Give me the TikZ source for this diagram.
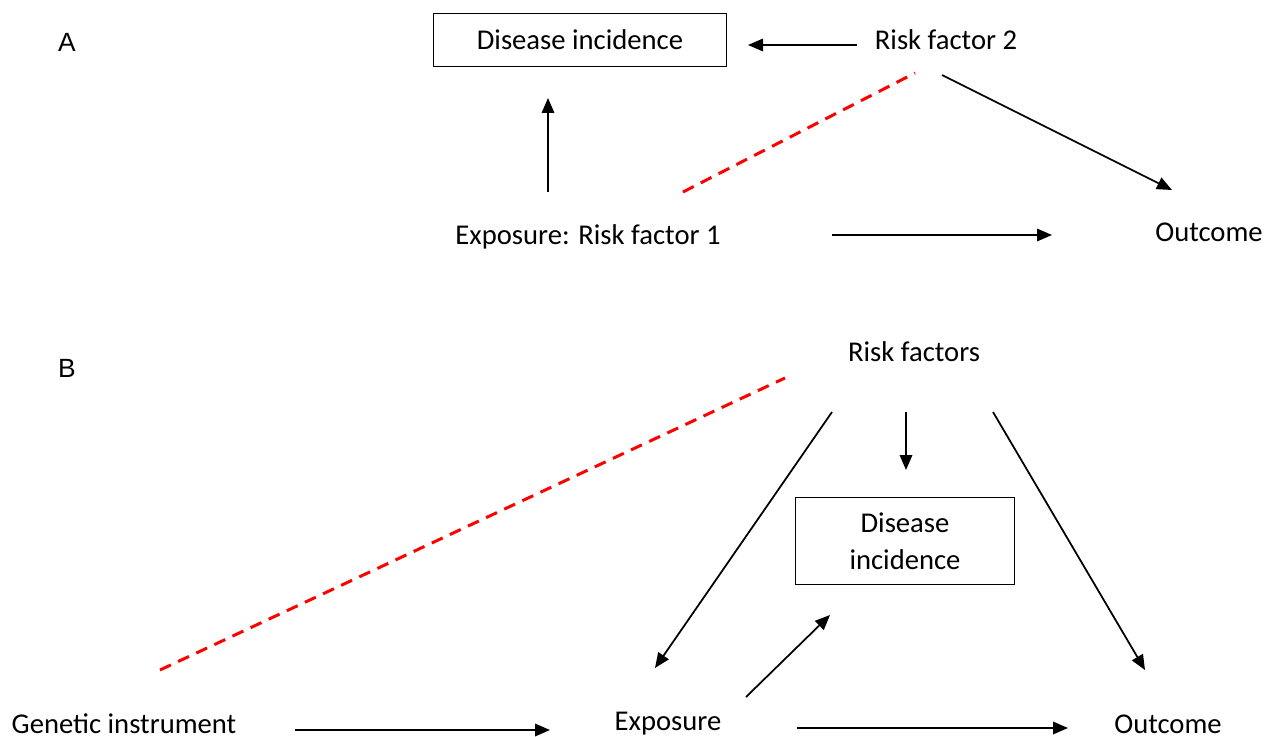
\documentclass[tikz,border=0pt]{standalone}
\usepackage{fontspec}
\setmainfont{Carlito}
\newfontfamily\panelfont{Liberation Sans}
\usetikzlibrary{arrows.meta, positioning}

\begin{document}
\begin{tikzpicture}[x=0.02cm, y=-0.02cm,
    lbl/.style={font=\fontsize{16.3}{19}\selectfont, inner sep=0pt},
    panel/.style={font=\panelfont\fontsize{15}{18}\selectfont, inner sep=0pt},
    box/.style={rectangle, draw, line width=1pt, inner sep=0pt, align=center, font=\fontsize{16.3}{21}\selectfont},
    arr/.style={-{Triangle[length=0.3cm, width=0.25cm]}, line width=1pt},
    conf/.style={red, line width=1.7pt, dash pattern=on 0.24cm off 0.16cm}
]
\useasboundingbox (0,0) rectangle (1265,737);

% panel A
\node[panel] (pA) at (67,42) {A};
\node[box, minimum width=5.86cm, minimum height=1.06cm] (disA) at (580,40) {Disease incidence};
\node[lbl] (rf2) at (946,40) {Risk factor 2};
\node[lbl] (expA) at (588,237) {Exposure: Risk factor 1};
\node[lbl] (outA) at (1209,232) {Outcome};

\coordinate (rf2w) at (857,45);
\coordinate (disAe) at (748,45);
\coordinate (expAn) at (548,192);
\coordinate (disAs) at (548,98);
\coordinate (rf2sw) at (915,73);
\coordinate (expAne) at (683,192);
\coordinate (rf2se) at (942,75);
\coordinate (outAn) at (1172,190);
\coordinate (expAe) at (832,235);
\coordinate (outAw) at (1052,235);

\draw[arr] (rf2w) -- (disAe);
\draw[arr] (expAn) -- (disAs);
\draw[conf] (expAne) -- (rf2sw);
\draw[arr] (rf2se) -- (outAn);
\draw[arr] (expAe) -- (outAw);

% panel B
\node[panel] (pB) at (67,368) {B};
\node[lbl] (rfs) at (914,352) {Risk factors};
\node[box, minimum width=4.38cm, minimum height=1.74cm] (disB) at (905,541) {Disease\\incidence};
\node[lbl] (gen) at (124,724) {Genetic instrument};
\node[lbl] (expB) at (668,724) {Exposure};
\node[lbl] (outB) at (1168,724) {Outcome};

\coordinate (rfsw) at (785,378);
\coordinate (genn) at (160,670);
\coordinate (rfsl) at (832,412);
\coordinate (expBn) at (655,668);
\coordinate (rfsm) at (906,412);
\coordinate (disBn) at (906,470);
\coordinate (rfsr) at (993,412);
\coordinate (outBn) at (1145,670);
\coordinate (expBne) at (746,697);
\coordinate (disBs) at (830,615);
\coordinate (gene) at (295,730);
\coordinate (expBw) at (550,730);
\coordinate (expBe) at (797,728);
\coordinate (outBw) at (1068,728);

\draw[conf] (genn) -- (rfsw);
\draw[arr] (rfsl) -- (expBn);
\draw[arr] (rfsm) -- (disBn);
\draw[arr] (rfsr) -- (outBn);
\draw[arr] (expBne) -- (disBs);
\draw[arr] (gene) -- (expBw);
\draw[arr] (expBe) -- (outBw);
\end{tikzpicture}
\end{document}
